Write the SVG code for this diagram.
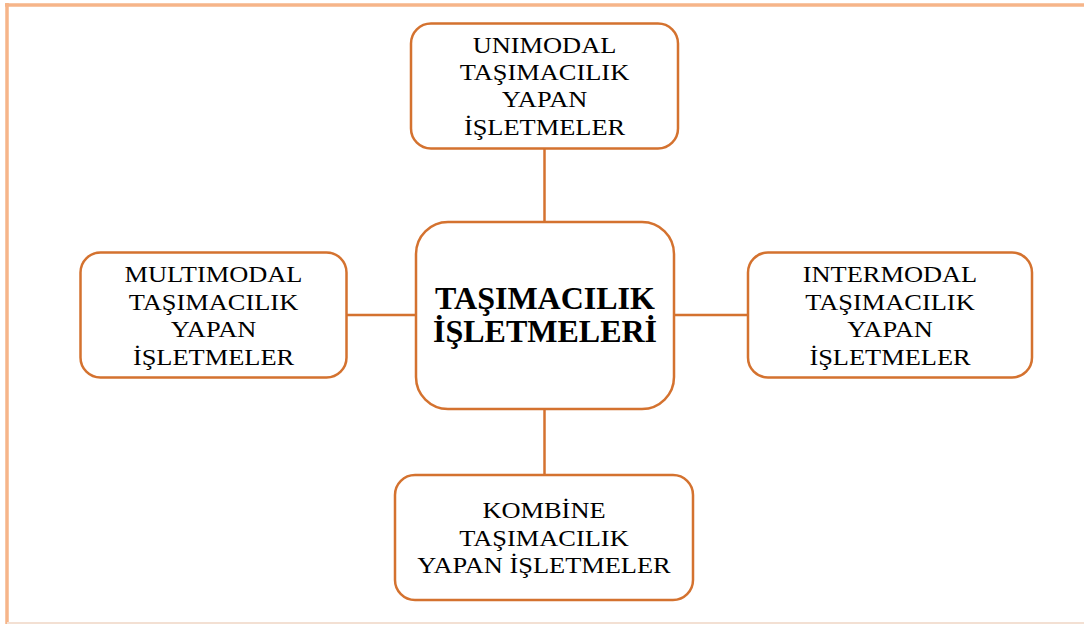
<svg xmlns="http://www.w3.org/2000/svg" width="1084" height="624" viewBox="0 0 1084 624">
<style>
.box{fill:#ffffff;stroke:#d4722f;stroke-width:2.5}
.conn{stroke:#d4722f;stroke-width:2.5;fill:none}
.t{font-family:"Liberation Serif","Times New Roman",serif;font-size:24px;fill:#000;text-anchor:middle}
.tb{font-family:"Liberation Serif","Times New Roman",serif;font-size:32px;font-weight:bold;fill:#000;text-anchor:middle}
</style>
<rect x="0" y="0" width="1084" height="624" fill="#ffffff"/>
<g id="frame">
<line x1="5" y1="5" x2="1084" y2="5" stroke="#f6b589" stroke-width="3.5"/>
<line x1="7" y1="3" x2="7" y2="624" stroke="#f6b589" stroke-width="3.5"/>
<line x1="7" y1="623" x2="1084" y2="623" stroke="#f3e0d3" stroke-width="2"/>
</g>
<g id="connectors">
<line class="conn" x1="544.5" y1="148" x2="544.5" y2="222"/>
<line class="conn" x1="544.5" y1="409" x2="544.5" y2="475"/>
<line class="conn" x1="347" y1="315" x2="416" y2="315"/>
<line class="conn" x1="674" y1="315" x2="748" y2="315"/>
</g>
<g id="center">
<rect class="box" x="416" y="222" width="258" height="187" rx="32"/>
<text class="tb" x="545" y="309">TAŞIMACILIK</text>
<text class="tb" x="545" y="342">İŞLETMELERİ</text>
</g>
<g id="unimodal">
<rect class="box" x="411" y="23.5" width="267" height="125" rx="20"/>
<g transform="translate(544.5 0) scale(1.1 1)">
<text class="t" x="0" y="53">UNIMODAL</text>
<text class="t" x="0" y="80">TAŞIMACILIK</text>
<text class="t" x="0" y="107">YAPAN</text>
<text class="t" x="0" y="135">İŞLETMELER</text>
</g>
</g>
<g id="multimodal">
<rect class="box" x="80.5" y="252.5" width="266" height="125" rx="20"/>
<g transform="translate(213.5 0) scale(1.1 1)">
<text class="t" x="0" y="282">MULTIMODAL</text>
<text class="t" x="0" y="310">TAŞIMACILIK</text>
<text class="t" x="0" y="337">YAPAN</text>
<text class="t" x="0" y="365">İŞLETMELER</text>
</g>
</g>
<g id="intermodal">
<rect class="box" x="748" y="252.5" width="284" height="125" rx="20"/>
<g transform="translate(890 0) scale(1.1 1)">
<text class="t" x="0" y="282">INTERMODAL</text>
<text class="t" x="0" y="310">TAŞIMACILIK</text>
<text class="t" x="0" y="337">YAPAN</text>
<text class="t" x="0" y="365">İŞLETMELER</text>
</g>
</g>
<g id="kombine">
<rect class="box" x="395" y="475" width="298" height="125" rx="20"/>
<g transform="translate(544 0) scale(1.1 1)">
<text class="t" x="0" y="518">KOMBİNE</text>
<text class="t" x="0" y="546">TAŞIMACILIK</text>
<text class="t" x="0" y="573">YAPAN İŞLETMELER</text>
</g>
</g>
</svg>
